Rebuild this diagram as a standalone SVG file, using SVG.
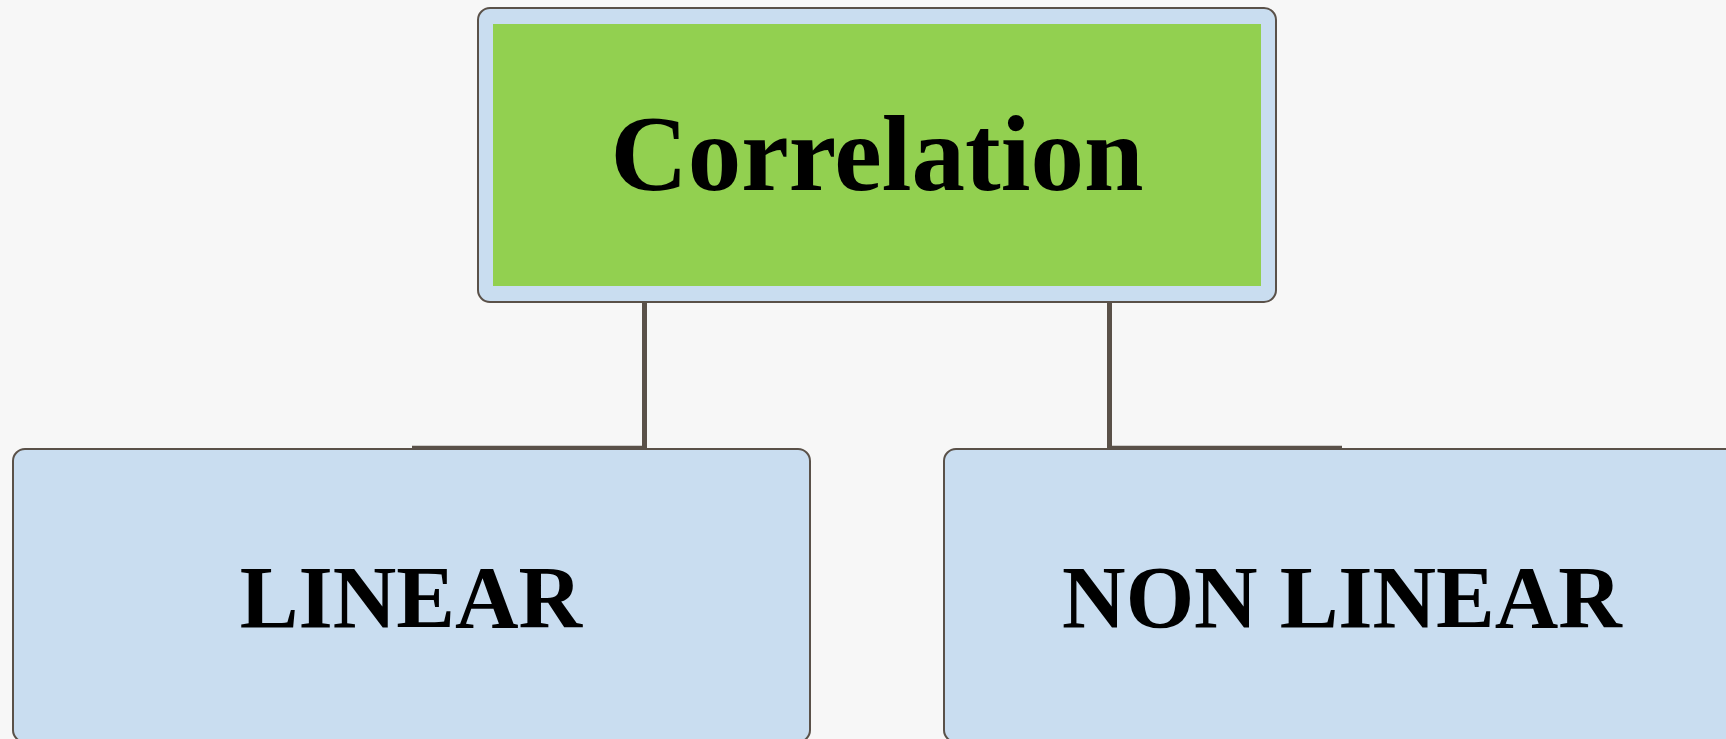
<svg xmlns="http://www.w3.org/2000/svg" width="1726" height="739" viewBox="0 0 1726 739">
<style>
.box{fill:#c9ddf0;stroke:#5a5149;stroke-width:2}
.lbl{font-family:"Liberation Serif","Times New Roman",serif;font-weight:bold;fill:#000;text-anchor:middle}
.conn{stroke:#5a5149;fill:none}
</style>
<rect x="0" y="0" width="1726" height="739" fill="#f7f7f7"/>
<g id="connectors">
<line class="conn" x1="644.5" y1="302" x2="644.5" y2="449" stroke-width="5"/>
<line class="conn" x1="412" y1="447.5" x2="646" y2="447.5" stroke-width="3.5"/>
<line class="conn" x1="1109.5" y1="302" x2="1109.5" y2="449" stroke-width="5"/>
<line class="conn" x1="1108" y1="447.5" x2="1342" y2="447.5" stroke-width="3.5"/>
</g>
<g id="node-correlation">
<rect class="box" x="478" y="8" width="798" height="294" rx="12"/>
<rect x="493" y="24" width="768" height="262" fill="#92d050"/>
<text class="lbl" x="877" y="190" font-size="107">Correlation</text>
</g>
<g id="node-linear">
<rect class="box" x="13" y="449" width="797" height="293" rx="12"/>
<text class="lbl" x="411" y="627" font-size="88">LINEAR</text>
</g>
<g id="node-nonlinear">
<rect class="box" x="944" y="449" width="800" height="293" rx="12"/>
<text class="lbl" x="1342" y="627" font-size="88">NON LINEAR</text>
</g>
</svg>
